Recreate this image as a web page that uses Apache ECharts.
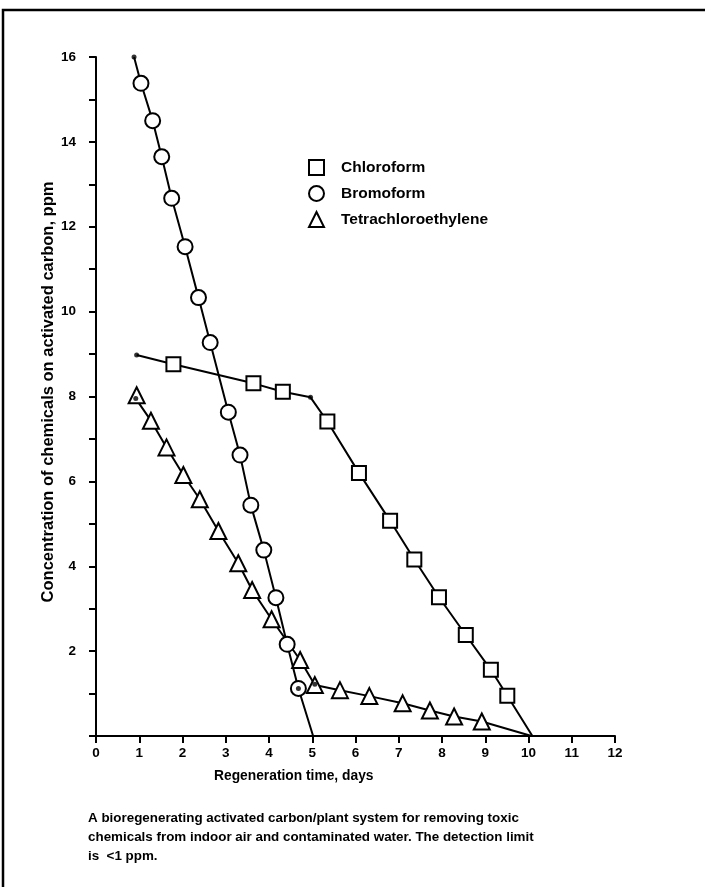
<!DOCTYPE html>
<html>
<head>
<meta charset="utf-8">
<script src="https://cdn.jsdelivr.net/npm/echarts@6/dist/echarts.min.js"></script>
<style>
  html, body { margin: 0; padding: 0; background: #fff; }
  #chart { width: 705px; height: 887px; }
</style>
</head>
<body>
<div id="chart"></div>
<script>
// ---------- data ----------
const xTicks = [0, 1, 2, 3, 4, 5, 6, 7, 8, 9, 10, 11, 12];
const yTickLabels = [2, 4, 6, 8, 10, 12, 14, 16];

// Chloroform
const chloroformLineDays = [0.94, 1.79, 3.64, 4.32, 4.96, 5.35, 6.08, 6.80, 7.36, 7.93, 8.55, 9.13, 9.51, 10.09];
const chloroformLinePpm  = [8.98, 8.76, 8.31, 8.11, 7.98, 7.41, 6.20, 5.07, 4.16, 3.27, 2.38, 1.56, 0.95, 0];
const chloroformDays = [1.79, 3.64, 4.32, 5.35, 6.08, 6.80, 7.36, 7.93, 8.55, 9.13, 9.51];
const chloroformPpm  = [8.76, 8.31, 8.11, 7.41, 6.20, 5.07, 4.16, 3.27, 2.38, 1.56, 0.95];
const chloroformDotDays = [0.94, 4.96];
const chloroformDotPpm  = [8.98, 7.98];

// Bromoform
const bromoformLineDays = [0.88, 1.04, 1.31, 1.52, 1.75, 2.06, 2.37, 2.64, 3.06, 3.33, 3.58, 3.88, 4.16, 4.42, 4.68, 5.02];
const bromoformLinePpm  = [16.0, 15.38, 14.5, 13.65, 12.67, 11.53, 10.33, 9.27, 7.63, 6.62, 5.44, 4.38, 3.26, 2.16, 1.12, 0];
const bromoformDays = [1.04, 1.31, 1.52, 1.75, 2.06, 2.37, 2.64, 3.06, 3.33, 3.58, 3.88, 4.16, 4.42, 4.68];
const bromoformPpm  = [15.38, 14.5, 13.65, 12.67, 11.53, 10.33, 9.27, 7.63, 6.62, 5.44, 4.38, 3.26, 2.16, 1.12];
const bromoformDotDays = [0.88, 4.68];
const bromoformDotPpm  = [16.0, 1.12];

// Tetrachloroethylene
const tetraLineDays = [0.92, 1.27, 1.63, 2.02, 2.40, 2.83, 3.29, 3.61, 4.06, 4.72, 5.06, 5.64, 6.32, 7.09, 7.72, 8.28, 8.92, 10.07];
const tetraLinePpm  = [7.95, 7.43, 6.80, 6.15, 5.58, 4.83, 4.07, 3.44, 2.75, 1.79, 1.20, 1.08, 0.94, 0.77, 0.60, 0.46, 0.34, 0];
const tetraDays = [0.94, 1.27, 1.63, 2.02, 2.40, 2.83, 3.29, 3.61, 4.06, 4.72, 5.06, 5.64, 6.32, 7.09, 7.72, 8.28, 8.92];
const tetraPpm  = [8.03, 7.43, 6.80, 6.15, 5.58, 4.83, 4.07, 3.44, 2.75, 1.79, 1.20, 1.08, 0.94, 0.77, 0.60, 0.46, 0.34];
const tetraDotDays = [0.92, 5.06];
const tetraDotPpm  = [7.95, 1.22];

const seriesNames = ['Chloroform', 'Bromoform', 'Tetrachloroethylene'];
const xTitle = 'Regeneration time, days';
const yTitle = 'Concentration of chemicals on activated carbon, ppm';
const captionLines = [
  'A bioregenerating activated carbon/plant system for removing toxic',
  'chemicals from indoor air and contaminated water. The detection limit',
  'is  <1 ppm.'
];

// ---------- helpers ----------
const zip = (xs, ys) => xs.map((x, i) => [x, ys[i]]);
const FONT = '"Liberation Sans", Arial, Helvetica, sans-serif';

function lineSeries(xs, ys) {
  return {
    type: 'line', data: zip(xs, ys), showSymbol: false, silent: true,
    lineStyle: { color: '#000', width: 2 }, z: 2, animation: false
  };
}
function markerSeries(name, symbol, size, xs, ys) {
  return {
    name, type: 'scatter', data: zip(xs, ys), symbol, symbolSize: size,
    itemStyle: { color: '#fff', borderColor: '#000', borderWidth: 2, opacity: 1 },
    z: 3, animation: false
  };
}
function dotSeries(xs, ys) {
  return {
    type: 'scatter', data: zip(xs, ys), symbol: 'circle', symbolSize: 5,
    itemStyle: { color: '#000' }, z: 4, animation: false, silent: true
  };
}

const chart = echarts.init(document.getElementById('chart'), null, { renderer: 'canvas' });

const option = {
  backgroundColor: '#fff',
  animation: false,
  grid: { left: 96, right: 90, top: 57, bottom: 151, containLabel: false },
  xAxis: {
    type: 'value', min: 0, max: 12, interval: 1,
    axisLine: { lineStyle: { color: '#000', width: 2 } },
    axisTick: { length: 7, lineStyle: { color: '#000', width: 2 } },
    splitLine: { show: false },
    axisLabel: {
      color: '#000', fontFamily: FONT, fontWeight: 'bold', fontSize: 13.5, margin: 10,
      formatter: v => (xTicks.includes(v) ? String(v) : '')
    }
  },
  yAxis: {
    type: 'value', min: 0, max: 16, interval: 1,
    axisLine: { show: true, lineStyle: { color: '#000', width: 2 } },
    axisTick: { show: true, length: 7, lineStyle: { color: '#000', width: 2 } },
    splitLine: { show: false },
    axisLabel: {
      color: '#000', fontFamily: FONT, fontWeight: 'bold', fontSize: 13.5, margin: 20,
      formatter: v => (yTickLabels.includes(v) ? String(v) : '')
    }
  },
  legend: {
    orient: 'vertical', left: 308, top: 159, itemGap: 9, padding: 0,
    itemWidth: 15, itemHeight: 15,
    data: seriesNames,
    textStyle: { color: '#000', fontFamily: FONT, fontWeight: 'bold', fontSize: 15.5, padding: [0, 0, 0, 12] },
    selectedMode: false
  },
  series: [
    lineSeries(chloroformLineDays, chloroformLinePpm),
    lineSeries(bromoformLineDays, bromoformLinePpm),
    lineSeries(tetraLineDays, tetraLinePpm),
    markerSeries(seriesNames[0], 'rect', 14, chloroformDays, chloroformPpm),
    markerSeries(seriesNames[1], 'circle', 15, bromoformDays, bromoformPpm),
    markerSeries(seriesNames[2], 'triangle', 16, tetraDays, tetraPpm),
    dotSeries(chloroformDotDays, chloroformDotPpm),
    dotSeries(bromoformDotDays, bromoformDotPpm),
    dotSeries(tetraDotDays, tetraDotPpm)
  ],
  graphic: [
    { type: 'polyline', shape: { points: [[3, 900], [3, 10], [705, 10]] },
      style: { stroke: '#000', lineWidth: 2.5, fill: null }, silent: true },
    { type: 'text', left: 214, top: 769,
      style: { text: xTitle, fill: '#000', font: 'bold 13.8px ' + FONT } },
    { type: 'text', x: 48, y: 392, rotation: Math.PI / 2,
      style: { text: yTitle, fill: '#000', font: 'bold 16.5px ' + FONT, textAlign: 'center', textVerticalAlign: 'middle' } },
    { type: 'text', left: 88, top: 809,
      style: { text: captionLines.join('\n'), fill: '#000', font: 'bold 13.4px ' + FONT, lineHeight: 19 } }
  ]
};
chart.setOption(option);
</script>
</body>
</html>
